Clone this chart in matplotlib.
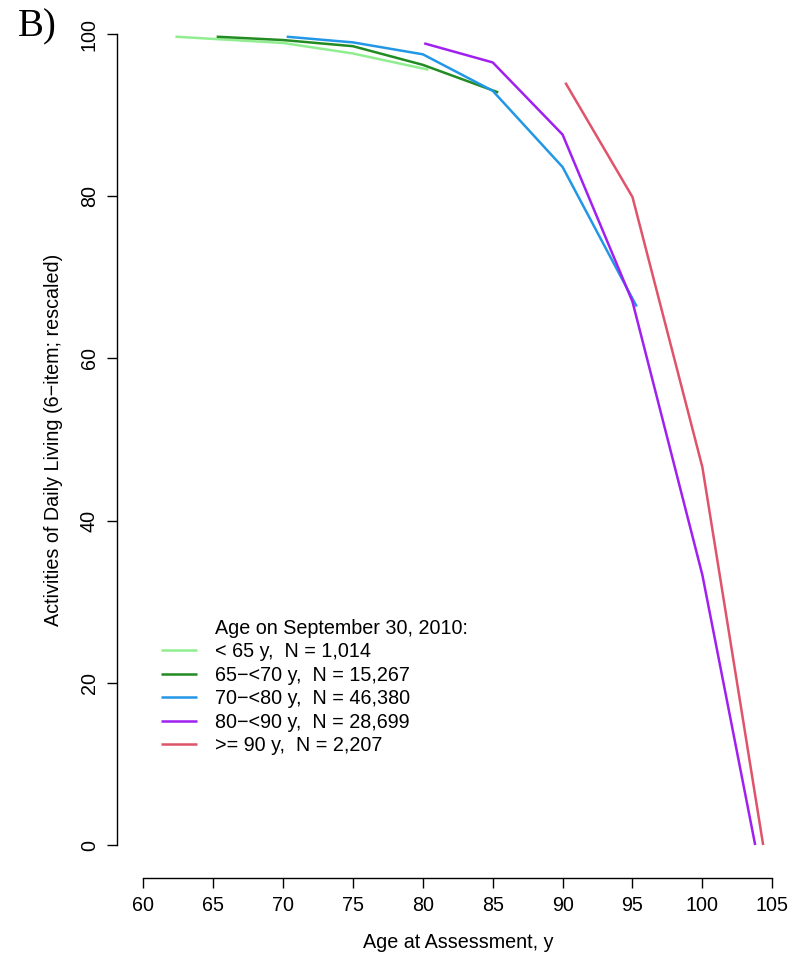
import matplotlib.pyplot as plt
from matplotlib.lines import Line2D

plt.rcParams['font.family'] = ['Liberation Sans', 'DejaVu Sans']

# mean age at assessment vs ADL score, by age group
age_lt65 = [62.3, 70, 75, 80.4]
adl_lt65 = [99.67, 98.9, 97.6, 95.6]
age_65_70 = [65.25, 70, 75, 80, 85.4]
adl_65_70 = [99.67, 99.26, 98.5, 96.2, 92.8]
age_70_80 = [70.26, 75, 80, 85, 90, 95.3]
adl_70_80 = [99.67, 98.97, 97.5, 93.0, 83.6, 66.4]
age_80_90 = [80.1, 85, 90, 95, 100, 103.78]
adl_80_90 = [98.85, 96.5, 87.6, 67.0, 33.3, 0]
age_ge90 = [90.2, 95, 100, 104.35]
adl_ge90 = [94.0, 79.9, 46.6, 0]

labels = ['< 65 y,  N = 1,014', '65\u2212<70 y,  N = 15,267', '70\u2212<80 y,  N = 46,380',
          '80\u2212<90 y,  N = 28,699', '>= 90 y,  N = 2,207']
colors = ['#90EE90', '#228B22', '#2297E6', '#A020F0', '#DF536B']
xticks = [60, 65, 70, 75, 80, 85, 90, 95, 100, 105]
yticks = [0, 20, 40, 60, 80, 100]

series = [(age_lt65, adl_lt65), (age_65_70, adl_65_70), (age_70_80, adl_70_80),
          (age_80_90, adl_80_90), (age_ge90, adl_ge90)]

fs = 14.2
fig = plt.figure(figsize=(8.01, 9.58), dpi=100)
ax = fig.add_axes([0.14607, 0.08382, 0.84020, 0.89530])

for (x, y), c, lab in zip(series, colors, labels):
    ax.plot(x, y, color=c, lw=1.8, label=lab, solid_capstyle='butt')

ax.set_xlim(58.12, 106.27)
ax.set_ylim(-4.03, 101.73)
ax.set_xticks(xticks)
ax.set_yticks(yticks)
for s in ['top', 'right']:
    ax.spines[s].set_visible(False)
ax.spines['bottom'].set_bounds(60, 105)
ax.spines['left'].set_bounds(0, 100)
for s in ['bottom', 'left']:
    ax.spines[s].set_linewidth(1.0)
ax.tick_params(length=7, width=1.0, labelsize=fs, pad=6)
plt.setp(ax.get_yticklabels(), rotation=90, va='center')

ax.set_xlabel('Age at Assessment, y', fontsize=fs, labelpad=13)
ax.set_ylabel('Activities of Daily Living (6\u2212item; rescaled)', fontsize=fs, labelpad=12)
# center the labels on the plotted range, like R does
ax.xaxis.label.set_x(0.5064)
ax.yaxis.label.set_y(0.5103)

handles = [Line2D([], [], color='none')] + ax.get_lines()
leg_labels = ['Age on September 30, 2010:'] + labels
ax.legend(handles, leg_labels, loc='upper left', bbox_to_anchor=(160.7 / 801, 1 - 618.5 / 958),
          bbox_transform=fig.transFigure, frameon=False, fontsize=fs, borderpad=0,
          borderaxespad=0, handlelength=1.85, handletextpad=0.9, labelspacing=0.23)

fig.text(18 / 801, 1 - 36 / 958, 'B)', family='Liberation Serif', fontsize=28, va='baseline')

fig.savefig('out.png', dpi=100)
